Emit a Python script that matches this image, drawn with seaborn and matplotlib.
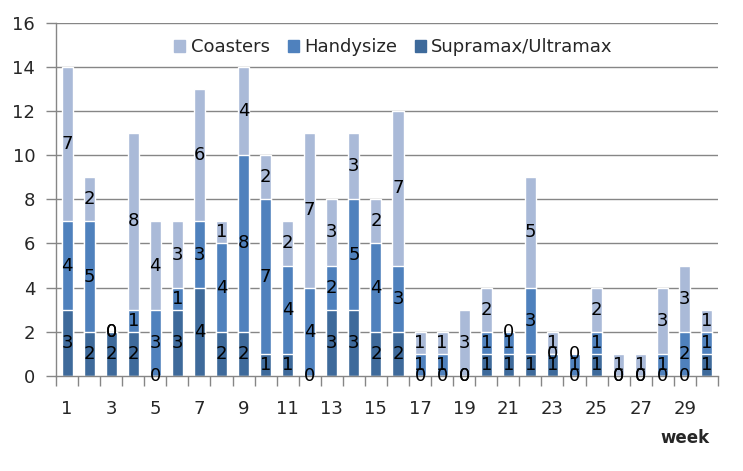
import numpy as np
import pandas as pd
import matplotlib
matplotlib.use("Agg")
import matplotlib.pyplot as plt
import seaborn as sns
from matplotlib.patches import Patch
from matplotlib.ticker import FixedLocator

weeks = list(range(1, 31))
supramax = [3, 2, 2, 2, 0, 3, 4, 2, 2, 1, 1, 0, 3, 3, 2, 2, 0, 0, 0, 1,
            1, 1, 1, 0, 1, 0, 0, 0, 0, 1]
handysize = [4, 5, 0, 1, 3, 1, 3, 4, 8, 7, 4, 4, 2, 5, 4, 3, 1, 1, 0, 1,
             1, 3, 0, 1, 1, 0, 0, 1, 2, 1]
coasters = [7, 2, 0, 8, 4, 3, 6, 1, 4, 2, 2, 7, 3, 3, 2, 7, 1, 1, 3, 2,
            0, 5, 1, 0, 2, 1, 1, 3, 3, 1]

series = ["Coasters", "Handysize", "Supramax/Ultramax"]
colors = {"Coasters": "#AABAD8", "Handysize": "#4F81BD", "Supramax/Ultramax": "#3E6A9B"}

df = pd.DataFrame({"week": weeks, "Supramax/Ultramax": supramax,
                   "Handysize": handysize, "Coasters": coasters})
df["lvl1"] = df["Supramax/Ultramax"]
df["lvl2"] = df["lvl1"] + df["Handysize"]
df["lvl3"] = df["lvl2"] + df["Coasters"]

sns.set_style("white")
plt.rcParams["font.family"] = ["DejaVu Sans"]

fig = plt.figure(figsize=(7.43, 4.71), dpi=100)
ax = fig.add_axes([0.0754, 0.2017, 0.8908, 0.7503])

grid_c = "#868686"
for y in range(2, 17, 2):
    ax.axhline(y, color=grid_c, lw=1, zorder=0)

# stacked bars drawn as overlapping cumulative totals
sns.barplot(data=df, x="week", y="lvl3", color=colors["Coasters"], saturation=1,
            width=0.5, ax=ax, zorder=2)
sns.barplot(data=df, x="week", y="lvl2", color=colors["Handysize"], saturation=1,
            width=0.5, ax=ax, zorder=3)
sns.barplot(data=df, x="week", y="lvl1", color=colors["Supramax/Ultramax"], saturation=1,
            width=0.5, ax=ax, zorder=4)

# data labels at segment centres
for i in range(len(weeks)):
    base = 0
    for name in ["Supramax/Ultramax", "Handysize", "Coasters"]:
        v = df[name].iloc[i]
        ax.text(i, base + v / 2, str(v), ha="center", va="center",
                fontsize=13, color="black", zorder=6)
        base += v

ax.set_ylim(0, 16)
ax.set_xlim(-0.5, len(weeks) - 0.5)
ax.set_yticks(range(0, 17, 2))
ax.tick_params(axis="y", labelsize=13, length=7, width=1, color=grid_c, pad=8, left=True)

ax.set_xticks(range(0, len(weeks), 2))
ax.set_xticklabels([str(w) for w in weeks[::2]])
ax.xaxis.set_minor_locator(FixedLocator(np.arange(-0.5, len(weeks), 1)))
ax.tick_params(axis="x", which="major", labelsize=13, length=0, pad=17)
ax.tick_params(axis="x", which="minor", length=7, width=1, color=grid_c, bottom=True)

ax.set_xlabel("")
ax.set_ylabel("")
for s in ["top", "right"]:
    ax.spines[s].set_visible(False)
for s in ["left", "bottom"]:
    ax.spines[s].set_color(grid_c)
    ax.spines[s].set_linewidth(1)
    ax.spines[s].set_zorder(5)

handles = [Patch(color=colors[n], label=n) for n in series]
ax.legend(handles=handles, loc="center", bbox_to_anchor=(0.51, 0.93), ncol=3,
          frameon=False, fontsize=13, handlelength=0.6, handleheight=0.6,
          handletextpad=0.3, columnspacing=1.0)

fig.text(0.955, 0.07, "week", ha="right", va="center", fontsize=12, fontweight="bold")

fig.savefig("out.png", dpi=100)
